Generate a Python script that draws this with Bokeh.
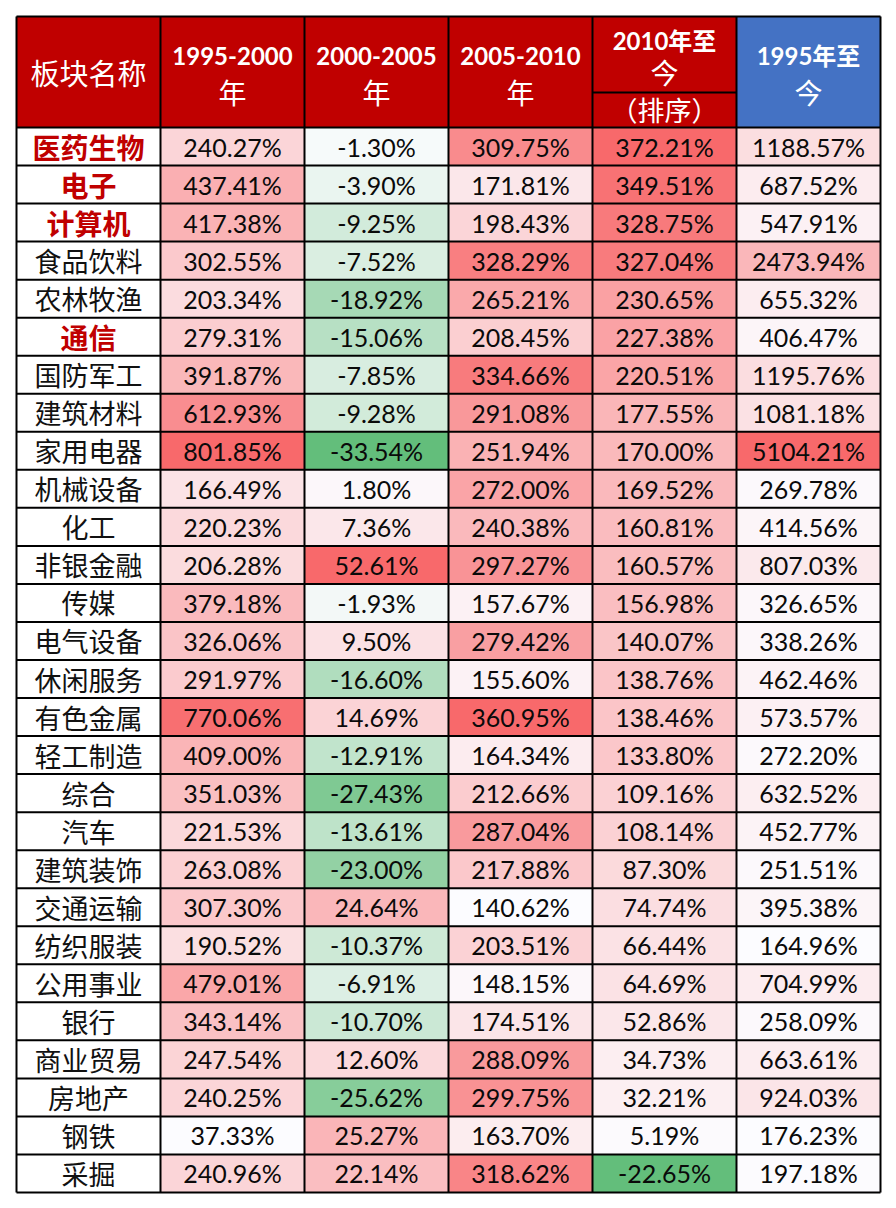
import numpy as np
from bokeh.plotting import figure
from bokeh.models import Range1d, ColumnDataSource
from bokeh.core.properties import value
from bokeh.embed import file_html
from bokeh.resources import INLINE

# ---------------- data ----------------
sectors = ["医药生物", "电子", "计算机", "食品饮料", "农林牧渔", "通信", "国防军工",
           "建筑材料", "家用电器", "机械设备", "化工", "非银金融", "传媒", "电气设备",
           "休闲服务", "有色金属", "轻工制造", "综合", "汽车", "建筑装饰", "交通运输",
           "纺织服装", "公用事业", "银行", "商业贸易", "房地产", "钢铁", "采掘"]
highlighted = ["医药生物", "电子", "计算机", "通信"]

r1995_2000 = [240.27, 437.41, 417.38, 302.55, 203.34, 279.31, 391.87, 612.93, 801.85,
              166.49, 220.23, 206.28, 379.18, 326.06, 291.97, 770.06, 409.00, 351.03,
              221.53, 263.08, 307.30, 190.52, 479.01, 343.14, 247.54, 240.25, 37.33, 240.96]
r2000_2005 = [-1.30, -3.90, -9.25, -7.52, -18.92, -15.06, -7.85, -9.28, -33.54,
              1.80, 7.36, 52.61, -1.93, 9.50, -16.60, 14.69, -12.91, -27.43,
              -13.61, -23.00, 24.64, -10.37, -6.91, -10.70, 12.60, -25.62, 25.27, 22.14]
r2005_2010 = [309.75, 171.81, 198.43, 328.29, 265.21, 208.45, 334.66, 291.08, 251.94,
              272.00, 240.38, 297.27, 157.67, 279.42, 155.60, 360.95, 164.34, 212.66,
              287.04, 217.88, 140.62, 203.51, 148.15, 174.51, 288.09, 299.75, 163.70, 318.62]
r2010_now = [372.21, 349.51, 328.75, 327.04, 230.65, 227.38, 220.51, 177.55, 170.00,
             169.52, 160.81, 160.57, 156.98, 140.07, 138.76, 138.46, 133.80, 109.16,
             108.14, 87.30, 74.74, 66.44, 64.69, 52.86, 34.73, 32.21, 5.19, -22.65]
r1995_now = [1188.57, 687.52, 547.91, 2473.94, 655.32, 406.47, 1195.76, 1081.18, 5104.21,
             269.78, 414.56, 807.03, 326.65, 338.26, 462.46, 573.57, 272.20, 632.52,
             452.77, 251.51, 395.38, 164.96, 704.99, 258.09, 663.61, 924.03, 176.23, 197.18]

columns = [r1995_2000, r2000_2005, r2005_2010, r2010_now, r1995_now]

# ---------------- styling ----------------
RED = np.array([248, 105, 107])
WHITE = np.array([252, 252, 255])
GREEN = np.array([99, 190, 123])
HEAD_RED = "#C00000"
HEAD_BLUE = "#4472C4"


def to_hex(c):
    c = np.clip(np.round(c), 0, 255).astype(int)
    return "#%02x%02x%02x" % tuple(c)


def scale_colors(vals):
    vmin, vmax = min(vals), max(vals)
    lo = max(vmin, 0.0)
    out = []
    for v in vals:
        if v >= lo:
            t = (v - lo) / (vmax - lo) if vmax > lo else 0
            out.append(to_hex(WHITE + (RED - WHITE) * t))
        else:
            t = (v - 0.0) / (vmin - 0.0)
            out.append(to_hex(WHITE + (GREEN - WHITE) * t))
    return out


HEADER_H = 2.918   # header height in row units
SPLIT = 0.92       # split line in the 2010 header

p = figure(width=888, height=1200,
           x_range=Range1d(-0.1111, 6.0556),
           y_range=Range1d(28.21, -3.339),
           output_backend="svg", toolbar_location=None, min_border=0)
p.axis.visible = False
p.grid.visible = False
p.outline_line_color = None
p.background_fill_color = "white"
p.border_fill_color = "white"

nrows = len(sectors)

# data cells
xs, ys, cols, labels = [], [], [], []
for j, vals in enumerate(columns):
    cc = scale_colors(vals)
    for i, v in enumerate(vals):
        xs.append(j + 1.5)
        ys.append(i + 0.5)
        cols.append(cc[i])
        labels.append("%.2f%%" % v)
cells = ColumnDataSource(dict(x=xs, y=ys, color=cols, label=labels))
p.rect(x="x", y="y", width=1, height=1, fill_color="color", line_color=None, source=cells)

# header cells
hx = [0.5, 1.5, 2.5, 3.5, 4.5, 4.5, 5.5]
hy = [-HEADER_H / 2] * 4 + [-(HEADER_H + SPLIT) / 2, -SPLIT / 2, -HEADER_H / 2]
hh = [HEADER_H] * 4 + [HEADER_H - SPLIT, SPLIT, HEADER_H]
hc = [HEAD_RED] * 6 + [HEAD_BLUE]
p.rect(x=hx, y=hy, width=1, height=hh, fill_color=hc, line_color=None)

# grid lines
gx = [[k, k] for k in range(7)]
gy = [[-HEADER_H, nrows] for k in range(7)]
for i in range(nrows + 1):
    gx.append([0, 6])
    gy.append([i, i])
gx.append([0, 6]); gy.append([-HEADER_H, -HEADER_H])
gx.append([4, 5]); gy.append([-SPLIT, -SPLIT])
p.multi_line(xs=gx, ys=gy, line_color="black", line_width=2)

# cell text
p.text(x="x", y="y", text="label", source=cells, text_align="center",
       text_baseline="middle", text_font=value("Lato"), text_font_size=value("25px"),
       text_color="#0a0a0a")

# row labels
norm = [(i, s) for i, s in enumerate(sectors) if s not in highlighted]
hi = [(i, s) for i, s in enumerate(sectors) if s in highlighted]
p.text(x=[0.5] * len(norm), y=[i + 0.5 for i, _ in norm], text=[s for _, s in norm],
       text_align="center", text_baseline="middle",
       text_font=value("Noto Sans CJK SC"), text_font_size=value("27px"),
       text_color="#111111")
p.text(x=[0.5] * len(hi), y=[i + 0.5 for i, _ in hi], text=[s for _, s in hi],
       text_align="center", text_baseline="middle",
       text_font=value("Noto Sans CJK SC"), text_font_size=value("28px"),
       text_font_style="bold", text_color="#C00000")

# header text
head_lines = [
    (0.5, -1.42, "板块名称", "normal", "29px"),
    (1.5, -1.89, "1995-2000", "bold", "24px"), (1.5, -0.92, "年", "normal", "28px"),
    (2.5, -1.89, "2000-2005", "bold", "24px"), (2.5, -0.92, "年", "normal", "28px"),
    (3.5, -1.89, "2005-2010", "bold", "24px"), (3.5, -0.92, "年", "normal", "28px"),
    (4.5, -2.29, "2010年至", "bold", "24px"), (4.5, -1.42, "今", "normal", "28px"),
    (4.5, -0.46, "（排序）", "normal", "27px"),
    (5.5, -1.89, "1995年至", "bold", "24px"), (5.5, -0.92, "今", "normal", "28px"),
]
for hxp, hyp, t, st, fs in head_lines:
    p.text(x=[hxp], y=[hyp], text=[t], text_align="center", text_baseline="middle",
           text_font=value("Lato, 'Noto Sans CJK SC'"), text_font_size=value(fs),
           text_font_style=st, text_color="white")

open("out.html", "w").write(file_html(p, INLINE))
